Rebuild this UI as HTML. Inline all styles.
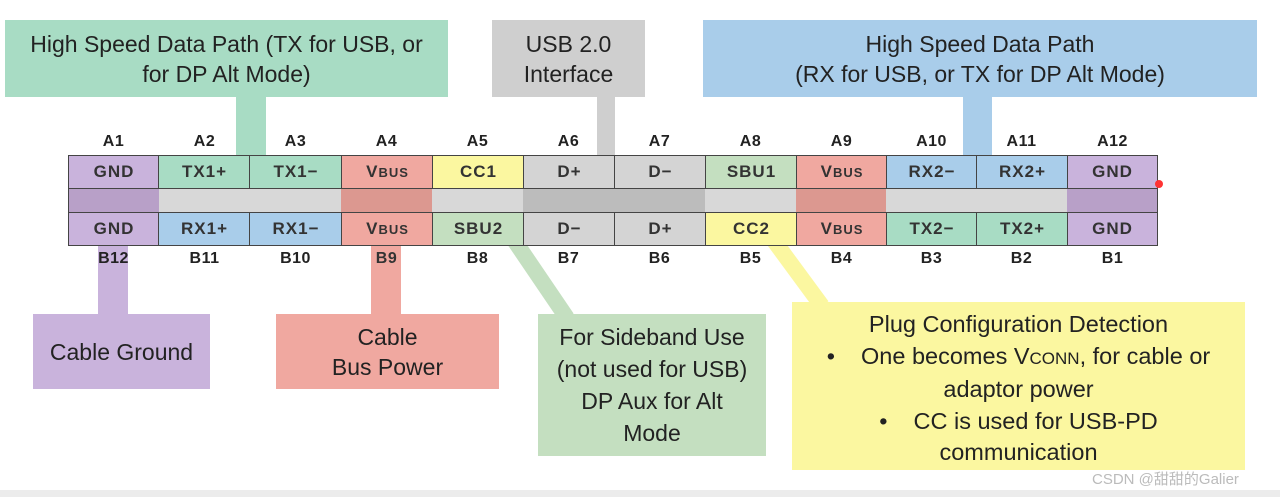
<!DOCTYPE html>
<html><head><meta charset="utf-8"><style>
body{margin:0;width:1280px;height:497px;background:#fff;position:relative;overflow:hidden;font-family:"Liberation Sans",sans-serif;}
.a{position:absolute;}
.box{position:absolute;display:flex;align-items:center;justify-content:center;text-align:center;font-size:23px;line-height:30px;color:#222;}
.pin{position:absolute;box-sizing:border-box;border:1.5px solid #444;display:flex;align-items:center;justify-content:center;font-weight:bold;font-size:17px;letter-spacing:1px;color:#333;}
.lab{position:absolute;width:91px;text-align:center;font-weight:bold;font-size:16px;letter-spacing:0.5px;color:#222;}
.sc{font-size:13px}
</style></head><body>
<div class="a" style="left:236px;top:95px;width:30px;height:62px;background:#a8dcc4"></div>
<div class="a" style="left:597px;top:95px;width:18px;height:62px;background:#cfcfcf"></div>
<div class="a" style="left:963px;top:95px;width:29px;height:62px;background:#a9cdea"></div>
<div class="a" style="left:98px;top:245px;width:30px;height:70px;background:#c9b3dc"></div>
<div class="a" style="left:371px;top:245px;width:30px;height:70px;background:#f0a8a0"></div>
<svg class="a" style="left:0;top:0" width="1280" height="497">
<line x1="512" y1="237" x2="567" y2="318" stroke="#c4dfc0" stroke-width="16"/>
<line x1="772" y1="238" x2="822" y2="306" stroke="#fbf7a0" stroke-width="16"/>
</svg>
<div class="box" style="left:5px;top:20px;width:443px;height:77px;background:#a8dcc4">High Speed Data Path (TX for USB, or<br>for DP Alt Mode)</div>
<div class="box" style="left:492px;top:20px;width:153px;height:77px;background:#cfcfcf">USB 2.0<br>Interface</div>
<div class="box" style="left:703px;top:20px;width:554px;height:77px;background:#a9cdea">High Speed Data Path<br>(RX for USB, or TX for DP Alt Mode)</div>
<div class="lab" style="left:68px;top:133px">A1</div><div class="lab" style="left:159px;top:133px">A2</div><div class="lab" style="left:250px;top:133px">A3</div><div class="lab" style="left:341px;top:133px">A4</div><div class="lab" style="left:432px;top:133px">A5</div><div class="lab" style="left:523px;top:133px">A6</div><div class="lab" style="left:614px;top:133px">A7</div><div class="lab" style="left:705px;top:133px">A8</div><div class="lab" style="left:796px;top:133px">A9</div><div class="lab" style="left:886px;top:133px">A10</div><div class="lab" style="left:976px;top:133px">A11</div><div class="lab" style="left:1067px;top:133px">A12</div>
<div class="lab" style="left:68px;top:250px">B12</div><div class="lab" style="left:159px;top:250px">B11</div><div class="lab" style="left:250px;top:250px">B10</div><div class="lab" style="left:341px;top:250px;color:#333">B9</div><div class="lab" style="left:432px;top:250px">B8</div><div class="lab" style="left:523px;top:250px">B7</div><div class="lab" style="left:614px;top:250px">B6</div><div class="lab" style="left:705px;top:250px">B5</div><div class="lab" style="left:796px;top:250px">B4</div><div class="lab" style="left:886px;top:250px">B3</div><div class="lab" style="left:976px;top:250px">B2</div><div class="lab" style="left:1067px;top:250px">B1</div>
<div class="a" style="left:68px;top:187px;width:1090px;height:27px;background:#d8d8d8;border-left:1.5px solid #444;border-right:1.5px solid #444;box-sizing:border-box"></div>
<div class="a" style="left:69px;top:187px;width:90px;height:27px;background:#b8a0c8"></div>
<div class="a" style="left:341px;top:187px;width:91px;height:27px;background:#dc9890"></div>
<div class="a" style="left:523px;top:187px;width:182px;height:27px;background:#bcbcbc"></div>
<div class="a" style="left:796px;top:187px;width:90px;height:27px;background:#dc9890"></div>
<div class="a" style="left:1067px;top:187px;width:90px;height:27px;background:#b8a0c8"></div>
<div class="pin" style="left:68px;top:155px;width:92px;height:34px;background:#c9b3dc">GND</div>
<div class="pin" style="left:158px;top:155px;width:93px;height:34px;background:#a8dcc4">TX1+</div>
<div class="pin" style="left:249px;top:155px;width:94px;height:34px;background:#a8dcc4">TX1−</div>
<div class="pin" style="left:341px;top:155px;width:93px;height:34px;background:#f0a8a0">V<span class="sc">BUS</span></div>
<div class="pin" style="left:432px;top:155px;width:93px;height:34px;background:#fbf7a0">CC1</div>
<div class="pin" style="left:523px;top:155px;width:93px;height:34px;background:#d4d4d4">D+</div>
<div class="pin" style="left:614px;top:155px;width:93px;height:34px;background:#d4d4d4">D−</div>
<div class="pin" style="left:705px;top:155px;width:93px;height:34px;background:#c4dfc0">SBU1</div>
<div class="pin" style="left:796px;top:155px;width:92px;height:34px;background:#f0a8a0">V<span class="sc">BUS</span></div>
<div class="pin" style="left:886px;top:155px;width:92px;height:34px;background:#a9cdea">RX2−</div>
<div class="pin" style="left:976px;top:155px;width:93px;height:34px;background:#a9cdea">RX2+</div>
<div class="pin" style="left:1067px;top:155px;width:91px;height:34px;background:#c9b3dc">GND</div>
<div class="pin" style="left:68px;top:212px;width:92px;height:34px;background:#c9b3dc">GND</div>
<div class="pin" style="left:158px;top:212px;width:93px;height:34px;background:#a9cdea">RX1+</div>
<div class="pin" style="left:249px;top:212px;width:94px;height:34px;background:#a9cdea">RX1−</div>
<div class="pin" style="left:341px;top:212px;width:93px;height:34px;background:#f0a8a0">V<span class="sc">BUS</span></div>
<div class="pin" style="left:432px;top:212px;width:93px;height:34px;background:#c4dfc0">SBU2</div>
<div class="pin" style="left:523px;top:212px;width:93px;height:34px;background:#d4d4d4">D−</div>
<div class="pin" style="left:614px;top:212px;width:93px;height:34px;background:#d4d4d4">D+</div>
<div class="pin" style="left:705px;top:212px;width:93px;height:34px;background:#fbf7a0">CC2</div>
<div class="pin" style="left:796px;top:212px;width:92px;height:34px;background:#f0a8a0">V<span class="sc">BUS</span></div>
<div class="pin" style="left:886px;top:212px;width:92px;height:34px;background:#a8dcc4">TX2−</div>
<div class="pin" style="left:976px;top:212px;width:93px;height:34px;background:#a8dcc4">TX2+</div>
<div class="pin" style="left:1067px;top:212px;width:91px;height:34px;background:#c9b3dc">GND</div>
<div class="a" style="left:1155px;top:180px;width:8px;height:8px;border-radius:50%;background:#f33"></div>
<div class="box" style="left:33px;top:314px;width:177px;height:75px;background:#c9b3dc">Cable Ground</div>
<div class="box" style="left:276px;top:314px;width:223px;height:75px;background:#f0a8a0">Cable<br>Bus Power</div>
<div class="box" style="left:538px;top:314px;width:228px;height:142px;background:#c4dfc0;line-height:32px">For Sideband Use<br>(not used for USB)<br>DP Aux for Alt<br>Mode</div>
<div class="box" style="left:792px;top:302px;width:453px;height:168px;background:#fbf7a0;line-height:31.5px;display:block;padding-top:7px;box-sizing:border-box;font-size:23.5px">Plug Configuration Detection<br><span style="margin-right:26px">•</span>One becomes V<span style="font-size:17px">CONN</span>, for cable or<br>adaptor power<br><span style="margin-right:26px">•</span>CC is used for USB-PD<br>communication</div>
<div class="a" style="left:1092px;top:468px;font-size:15px;color:#bbb;font-family:'Liberation Sans','Noto Sans CJK SC',sans-serif">CSDN @甜甜的Galier</div>
<div class="a" style="left:0;top:490px;width:1280px;height:7px;background:#ececec"></div>
</body></html>
